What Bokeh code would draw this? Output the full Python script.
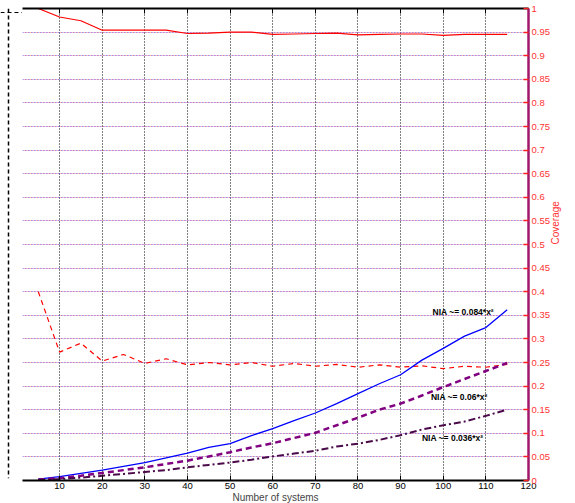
import math
from bokeh.plotting import figure
from bokeh.models import (LinearAxis, FixedTicker, Span, Label, Grid, Range1d)
from bokeh.layouts import row
from bokeh.embed import file_html
from bokeh.resources import INLINE

# ---------------- data ----------------
n_systems = [5, 10, 15, 20, 25, 30, 35, 40, 45, 50, 55, 60, 65, 70, 75, 80,
             85, 90, 95, 100, 105, 110, 115]

coverage_solid = [1.0, 0.982, 0.974, 0.954, 0.954, 0.954, 0.954, 0.947, 0.948,
                  0.950, 0.950, 0.945, 0.946, 0.947, 0.948, 0.944, 0.945,
                  0.946, 0.946, 0.943, 0.945, 0.945, 0.945]

coverage_dashed = [0.40, 0.272, 0.291, 0.253, 0.267, 0.248, 0.258, 0.245,
                   0.250, 0.245, 0.250, 0.242, 0.248, 0.242, 0.246, 0.240,
                   0.245, 0.240, 0.243, 0.237, 0.242, 0.240, 0.246]

nia_084 = [0.003, 0.008, 0.015, 0.022, 0.030, 0.038, 0.048, 0.058, 0.070,
           0.078, 0.095, 0.110, 0.127, 0.143, 0.163, 0.184, 0.205, 0.224,
           0.255, 0.280, 0.306, 0.324, 0.362]

nia_06 = [0.002, 0.005, 0.010, 0.016, 0.022, 0.028, 0.035, 0.042, 0.051,
          0.060, 0.070, 0.079, 0.090, 0.101, 0.117, 0.133, 0.150, 0.163,
          0.180, 0.198, 0.215, 0.232, 0.249]

nia_036 = [0.001, 0.003, 0.006, 0.010, 0.014, 0.018, 0.022, 0.028, 0.033,
           0.038, 0.044, 0.051, 0.057, 0.063, 0.072, 0.078, 0.086, 0.096,
           0.108, 0.117, 0.125, 0.137, 0.150]

x_ticks = [10, 20, 30, 40, 50, 60, 70, 80, 90, 100, 110, 120]
y_ticks = [0, 0.05, 0.1, 0.15, 0.2, 0.25, 0.3, 0.35, 0.4, 0.45, 0.5, 0.55,
           0.6, 0.65, 0.7, 0.75, 0.8, 0.85, 0.9, 0.95, 1]
y_tick_labels = ["0", "0.05", "0.1", "0.15", "0.2", "0.25", "0.3", "0.35",
                 "0.4", "0.45", "0.5", "0.55", "0.6", "0.65", "0.7", "0.75",
                 "0.8", "0.85", "0.9", "0.95", "1"]

annotations = ["NIA ~= 0.084*x\u00b2", "NIA ~= 0.06*x\u00b2", "NIA ~= 0.036*x\u00b2"]

FONT = "Liberation Sans"

# ---------------- left decoration ----------------
left = figure(width=22, height=503, x_range=Range1d(0, 22), y_range=Range1d(0, 503),
              x_axis_type=None, y_axis_type=None, toolbar_location=None,
              output_backend="svg", min_border=0)
left.grid.visible = False
left.outline_line_color = None
left.add_layout(Span(location=8, dimension="height", line_color="black",
                     line_dash="4 3", line_width=1.5))
left.add_layout(Span(location=498.7, dimension="width", line_color="black",
                     line_dash="4 3", line_width=1))

# ---------------- main figure ----------------
p = figure(frame_width=506, frame_height=472,
           x_range=Range1d(1.3, 120), y_range=Range1d(0, 1),
           y_axis_location="right", toolbar_location=None,
           output_backend="svg", min_border_left=0, min_border_top=8,
           min_border_right=0, min_border_bottom=0)
p.outline_line_color = None
p.background_fill_color = "white"

# x axis (bottom)
xa = p.xaxis[0]
xa.ticker = FixedTicker(ticks=x_ticks)
xa.bounds = (1.3, 120)
xa.axis_line_color = "black"
xa.axis_line_width = 2
xa.major_tick_in = 5
xa.major_tick_out = 0
xa.minor_tick_line_color = None
xa.major_tick_line_color = "black"
xa.major_label_text_font = FONT
xa.major_label_text_font_size = "9.5px"
xa.major_label_text_color = "black"
xa.major_label_standoff = 2
xa.axis_label = "Number of systems"
xa.axis_label_text_font = FONT
xa.axis_label_text_font_size = "10px"
xa.axis_label_text_font_style = "normal"
xa.axis_label_standoff = 0

# top axis (border line)
top = LinearAxis(ticker=FixedTicker(ticks=x_ticks), bounds=(1.3, 120),
                 axis_line_color="black", axis_line_width=2,
                 major_tick_in=5, major_tick_out=0,
                 major_tick_line_color="black", minor_tick_line_color=None,
                 major_label_text_font_size="0px", major_label_text_color=None,
                 major_label_standoff=0)
p.add_layout(top, "above")

# y axis (right, coverage)
ya = p.yaxis[0]
ya.ticker = FixedTicker(ticks=y_ticks)
ya.major_label_overrides = {t: s for t, s in zip(y_ticks, y_tick_labels)}
ya.axis_line_color = "#a0186c"
ya.axis_line_width = 2.5
ya.major_tick_line_color = "#ff2020"
ya.major_tick_line_width = 1.5
ya.major_tick_in = 5
ya.major_tick_out = 0
ya.minor_tick_line_color = None
ya.major_label_text_font = FONT
ya.major_label_text_font_size = "9.5px"
ya.major_label_text_color = "#ff3333"
ya.major_label_standoff = 3
ya.axis_label = "Coverage"
ya.axis_label_text_font = FONT
ya.axis_label_text_font_size = "10px"
ya.axis_label_text_font_style = "normal"
ya.axis_label_text_color = "#ff3333"
ya.axis_label_standoff = 3
ya.axis_label_orientation = math.pi / 2
ya.axis_label_text_align = "center"

# grids
p.xgrid.ticker = FixedTicker(ticks=x_ticks[:-1])
p.xgrid.grid_line_color = "black"
p.xgrid.grid_line_dash = "1 2"
p.xgrid.grid_line_alpha = 1.0
p.ygrid.ticker = FixedTicker(ticks=y_ticks[1:-1])
p.ygrid.grid_line_color = "#3030ff"
p.ygrid.grid_line_dash = "1 2"
p.ygrid.grid_line_alpha = 0.8
g2 = Grid(dimension=1, ticker=FixedTicker(ticks=y_ticks[1:-1]),
          grid_line_color="#ff3030", grid_line_dash="1 2",
          grid_line_dash_offset=1, grid_line_alpha=0.6)
p.add_layout(g2)

# lines
p.line(n_systems, coverage_solid, line_color="#ff0000", line_width=1.2)
p.line(n_systems, coverage_dashed, line_color="#ff0000", line_width=1.2,
       line_dash="5 4")
p.line(n_systems, nia_084, line_color="#0000ff", line_width=1.3)
p.line(n_systems, nia_06, line_color="#800080", line_width=2.5, line_dash="6 4")
p.line(n_systems, nia_036, line_color="#4a0a4a", line_width=2,
       line_dash="7 3 2 3")

# annotations
for (lx, ly), txt in zip([(97.5, 0.357), (97.1, 0.177), (95.0, 0.090)], annotations):
    p.add_layout(Label(x=lx, y=ly, text=txt, text_font=FONT,
                       text_font_size="8.5px", text_font_style="bold",
                       text_color="black", text_baseline="middle",
                       text_align="left"))

layout = row(left, p, spacing=0)
open("out.html", "w").write(file_html(layout, INLINE))
